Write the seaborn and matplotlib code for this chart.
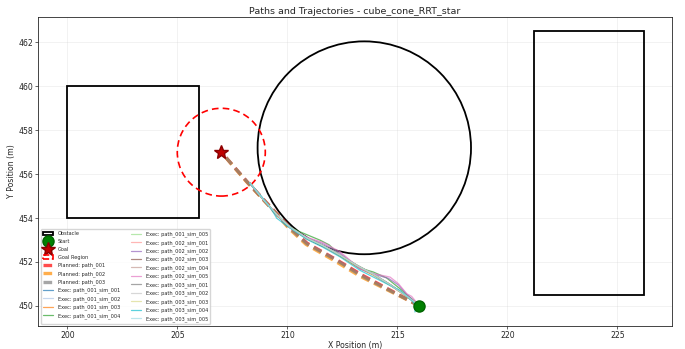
import numpy as np
import pandas as pd
import matplotlib
matplotlib.use("Agg")
import matplotlib.pyplot as plt
import matplotlib.patches as mpatches
from matplotlib.lines import Line2D
import seaborn as sns

# ---------------- data ----------------
title = "Paths and Trajectories - cube_cone_RRT_star"

# obstacles (x, y, width, height) for boxes; (cx, cy, r) for cone
box1 = [200.0, 454.0, 6.0, 6.0]
box2 = [221.2, 450.5, 5.0, 12.0]
cone = [213.5, 457.2, 4.85]

start_xy = [216.0, 450.0]
goal_xy = [207.0, 457.0]
goal_radius = 2.0

planned_names = ["path_001", "path_002", "path_003"]
planned_colors = ["red", "darkorange", "gray"]
plan1_x = [216.0, 213.4, 212.2, 210.9, 210.1, 209.5, 208.2, 207.0]
plan1_y = [450.0, 451.40, 452.12, 452.85, 453.60, 454.22, 455.62, 457.0]
plan2_x = [216.0, 213.3, 212.1, 210.85, 210.05, 209.45, 208.15, 207.0]
plan2_y = [450.0, 451.35, 452.08, 452.80, 453.55, 454.25, 455.65, 457.0]
plan3_x = [216.0, 213.35, 212.2, 210.9, 210.1, 209.5, 208.2, 207.0]
plan3_y = [450.0, 451.38, 452.10, 452.82, 453.55, 454.20, 455.62, 457.0]

exec_names = [f"path_{p:03d}_sim_{s:03d}" for p in (1, 2, 3) for s in range(1, 6)]

e11_x = [216.0, 215.45, 214.7, 213.95, 213.2, 212.4, 211.6, 210.9, 210.15, 209.5, 208.9, 208.32]
e11_y = [450.02, 450.42, 450.95, 451.42, 451.82, 452.30, 452.72, 453.08, 453.58, 454.18, 454.86, 455.58]
e12_x = [215.95, 215.4, 214.6, 213.85, 213.1, 212.35, 211.55, 210.85, 210.1, 209.45, 208.85, 208.3]
e12_y = [450.0, 450.48, 451.02, 451.48, 451.88, 452.33, 452.78, 453.12, 453.62, 454.22, 454.90, 455.60]
e13_x = [216.0, 215.5, 214.7, 213.9, 213.15, 212.4, 211.65, 210.9, 210.1, 209.5, 208.9, 208.3]
e13_y = [450.0, 450.38, 450.92, 451.40, 451.78, 452.26, 452.70, 453.05, 453.57, 454.16, 454.84, 455.62]
e14_x = [215.98, 215.73, 215.12, 214.5, 213.91, 213.3, 212.4, 211.9, 211.49, 210.58, 210.12, 209.5, 208.9, 208.28]
e14_y = [450.0, 450.25, 450.78, 451.28, 451.54, 451.72, 452.31, 452.78, 452.99, 453.37, 453.57, 454.15, 454.85, 455.60]
e15_x = [216.0, 215.42, 214.65, 213.9, 213.2, 212.45, 211.6, 210.88, 210.12, 209.48, 208.88, 208.3]
e15_y = [450.0, 450.44, 450.98, 451.46, 451.84, 452.28, 452.76, 453.10, 453.60, 454.20, 454.88, 455.60]
e21_x = [216.0, 215.4, 214.62, 213.88, 213.15, 212.42, 211.62, 210.9, 210.12, 209.5, 208.9, 208.31]
e21_y = [450.0, 450.46, 451.0, 451.44, 451.86, 452.32, 452.74, 453.06, 453.56, 454.17, 454.87, 455.59]
e22_x = [216.0, 215.45, 215.05, 214.6, 213.9, 213.3, 212.4, 211.6, 210.9, 210.12, 209.5, 208.9, 208.3]
e22_y = [450.02, 450.5, 450.95, 451.25, 451.45, 451.68, 452.40, 452.84, 453.10, 453.56, 454.16, 454.86, 455.60]
e23_x = [216.0, 215.48, 214.68, 213.92, 213.18, 212.38, 211.58, 210.88, 210.1, 209.48, 208.88, 208.3]
e23_y = [450.0, 450.40, 450.96, 451.43, 451.83, 452.31, 452.77, 453.09, 453.59, 454.19, 454.87, 455.61]
e24_x = [216.0, 215.44, 214.66, 213.86, 213.12, 212.36, 211.56, 210.86, 210.14, 209.52, 208.92, 208.32]
e24_y = [450.0, 450.43, 450.97, 451.47, 451.87, 452.35, 452.79, 453.11, 453.57, 454.16, 454.84, 455.58]
e25_x = [215.99, 215.65, 215.43, 215.05, 214.67, 213.91, 213.3, 212.4, 211.64, 210.9, 210.12, 209.5, 208.9, 208.28]
e25_y = [450.02, 450.43, 450.55, 451.01, 451.31, 451.47, 451.70, 452.46, 452.88, 453.12, 453.56, 454.16, 454.86, 455.59]
e31_x = [216.0, 215.46, 214.68, 213.94, 213.18, 212.4, 211.62, 210.9, 210.12, 209.5, 208.9, 208.31]
e31_y = [450.0, 450.41, 450.94, 451.41, 451.83, 452.29, 452.73, 453.07, 453.58, 454.18, 454.86, 455.59]
e32_x = [216.0, 215.42, 214.64, 213.9, 213.14, 212.38, 211.6, 210.87, 210.1, 209.48, 208.88, 208.3]
e32_y = [450.0, 450.45, 450.99, 451.45, 451.85, 452.32, 452.75, 453.09, 453.60, 454.20, 454.88, 455.60]
e33_x = [216.0, 215.47, 214.7, 213.96, 213.2, 212.42, 211.62, 210.92, 210.14, 209.52, 208.9, 208.31]
e33_y = [450.0, 450.40, 450.93, 451.40, 451.81, 452.28, 452.73, 453.06, 453.56, 454.16, 454.85, 455.59]
e34_x = [215.8, 215.85, 215.73, 215.12, 214.21, 213.3, 212.4, 211.6, 210.9, 210.12, 209.52, 209.3, 208.85, 208.28]
e34_y = [449.72, 449.95, 450.17, 450.70, 451.16, 451.62, 452.23, 452.68, 453.02, 453.55, 453.99, 454.37, 454.95, 455.60]
e35_x = [216.0, 215.43, 214.63, 213.87, 213.13, 212.37, 211.58, 210.88, 210.11, 209.49, 208.89, 208.3]
e35_y = [450.0, 450.44, 450.98, 451.46, 451.86, 452.33, 452.76, 453.09, 453.58, 454.19, 454.87, 455.60]

exec_xs = [e11_x, e12_x, e13_x, e14_x, e15_x, e21_x, e22_x, e23_x, e24_x, e25_x,
           e31_x, e32_x, e33_x, e34_x, e35_x]
exec_ys = [e11_y, e12_y, e13_y, e14_y, e15_y, e21_y, e22_y, e23_y, e24_y, e25_y,
           e31_y, e32_y, e33_y, e34_y, e35_y]

xticks = [200, 205, 210, 215, 220, 225]
yticks = [450, 452, 454, 456, 458, 460, 462]

# ---------------- plot ----------------
sns.set_style("ticks")
plt.rcParams["font.family"] = ["DejaVu Sans"]

fig = plt.figure(figsize=(6.85, 3.49), dpi=100)
ax = fig.add_axes([0.0555, 0.0659, 0.926, 0.8854])

# obstacles
for b in (box1, box2):
    ax.add_patch(mpatches.Rectangle((b[0], b[1]), b[2], b[3], facecolor="none",
                                    edgecolor="black", lw=1.3, zorder=2))
ax.add_patch(mpatches.Circle((cone[0], cone[1]), cone[2], facecolor="none",
                             edgecolor="black", lw=1.3, zorder=2))
# goal region
ax.add_patch(mpatches.Circle(goal_xy, goal_radius, facecolor="none", edgecolor="red",
                             lw=1.2, linestyle=(0, (4, 2.5)), zorder=2))

# planned paths
for px, py, c in zip([plan1_x, plan2_x, plan3_x], [plan1_y, plan2_y, plan3_y], planned_colors):
    df = pd.DataFrame({"x": px, "y": py})
    sns.lineplot(data=df, x="x", y="y", sort=False, estimator=None, ax=ax,
                 color=c, lw=2.4, alpha=0.7, zorder=3)
    ax.lines[-1].set_dashes([2.6, 1.6])

# executed trajectories
exec_colors = plt.cm.tab20(np.linspace(0, 1, 15))
for ex, ey, c in zip(exec_xs, exec_ys, exec_colors):
    df = pd.DataFrame({"x": ex, "y": ey})
    sns.lineplot(data=df, x="x", y="y", sort=False, estimator=None, ax=ax,
                 color=c, lw=0.9, alpha=0.7, zorder=4)

# start / goal
ax.plot(start_xy[0], start_xy[1], marker="o", markersize=8, color="green",
        markeredgecolor="darkgreen", zorder=6, linestyle="None")
ax.plot(goal_xy[0], goal_xy[1], marker="*", markersize=10, color="#c00000",
        markeredgecolor="darkred", zorder=6, linestyle="None")

ax.set_xlim(198.67, 227.5)
ax.set_ylim(449.08, 463.16)
ax.set_xticks(xticks)
ax.set_yticks(yticks)
ax.tick_params(labelsize=5.6, length=2, width=0.5, pad=1.5)
for s in ax.spines.values():
    s.set_linewidth(0.6)
ax.grid(True, alpha=0.3, lw=0.6)
ax.set_xlabel("X Position (m)", fontsize=5.6, labelpad=1)
ax.set_ylabel("Y Position (m)", fontsize=5.6, labelpad=2)
ax.set_title(title, fontsize=6.8, pad=1.8)

# legend
handles = [
    mpatches.Patch(facecolor="white", edgecolor="black", lw=1.3, label="Obstacle"),
    Line2D([], [], marker="o", markersize=8, color="green", markeredgecolor="darkgreen",
           linestyle="None", label="Start"),
    Line2D([], [], marker="*", markersize=10, color="#c00000", markeredgecolor="darkred",
           linestyle="None", label="Goal"),
    mpatches.Patch(facecolor="none", edgecolor="red", lw=1.2, linestyle="--", label="Goal Region"),
]
for n, c in zip(planned_names, planned_colors):
    handles.append(Line2D([], [], color=c, lw=2.4, alpha=0.7, linestyle=(0, (2.6, 1.6)),
                          label=f"Planned: {n}"))
for n, c in zip(exec_names, exec_colors):
    handles.append(Line2D([], [], color=c, lw=0.9, alpha=0.7, label=f"Exec: {n}"))
ax.legend(handles=handles, loc="lower left", ncol=2, fontsize=3.6, framealpha=0.8,
          labelspacing=0.55, handlelength=2.0, handletextpad=1.0, columnspacing=2.2,
          borderaxespad=0.5)

fig.savefig("out.png", dpi=100)
